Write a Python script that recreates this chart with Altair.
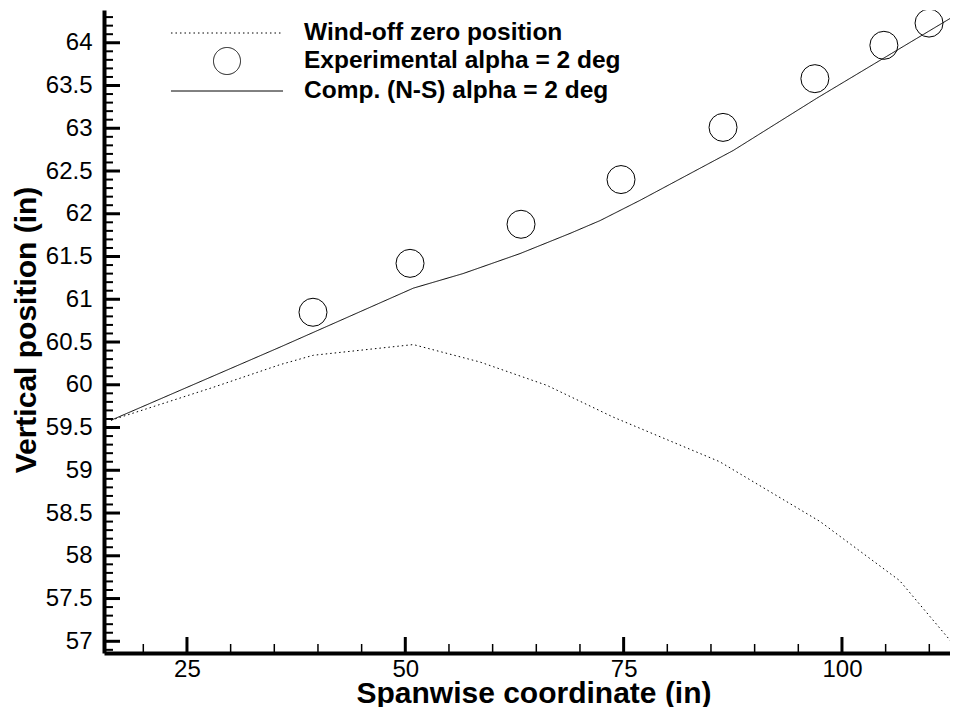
import altair as alt
import pandas as pd

# ---------------- data ----------------
series_names = ["Wind-off zero position", "Experimental alpha = 2 deg", "Comp. (N-S) alpha = 2 deg"]

wind_x = [16.3, 28.0, 35.65, 39.47, 50.92, 58.55, 66.19, 73.78, 86.0, 97.5, 106.6, 113.3]
wind_y = [59.585, 59.97, 60.235, 60.345, 60.47, 60.266, 59.994, 59.623, 59.1, 58.4, 57.71, 56.9]

comp_x = [16.3, 35.65, 50.92, 56.6, 63.13, 68.86, 72.3, 76.88, 87.55, 97.1, 104.7, 113.3]
comp_y = [59.585, 60.44, 61.13, 61.30, 61.534, 61.77, 61.92, 62.157, 62.74, 63.35, 63.815, 64.34]

exp_x = [39.43, 50.54, 63.25, 74.7, 86.38, 96.9, 104.8, 109.97]
exp_y = [60.848, 61.42, 61.877, 62.40, 63.01, 63.58, 63.97, 64.23]

x_major = [25, 50, 75, 100]
x_minor = [20, 30, 35, 40, 45, 55, 60, 65, 70, 80, 85, 90, 95, 105, 110]
y_major = [57, 57.5, 58, 58.5, 59, 59.5, 60, 60.5, 61, 61.5, 62, 62.5, 63, 63.5, 64]
y_minor = [round(56.9 + 0.1 * i, 1) for i in range(75)]
y_minor = [v for v in y_minor if abs(v * 2 - round(v * 2)) > 1e-6]

# ---------------- layout / style ----------------
W, H = 846, 643
FONT = "Liberation Sans"
xs = alt.Scale(domain=[15.5, 112.37], nice=False, zero=False)
ys = alt.Scale(domain=[56.863, 64.383], nice=False, zero=False)

x_axis = alt.Axis(title="Spanwise coordinate (in)", values=x_major, format="d",
                  ticks=False, tickSize=0, grid=False, labelPadding=4,
                  titleX=429.5, titleY=49, titleAlign="center", titleBaseline="alphabetic")
y_axis = alt.Axis(title="Vertical position (in)", values=y_major, format=".1~f",
                  ticks=False, tickSize=0, grid=False, labelPadding=12,
                  titleAngle=270, titleX=-69, titleY=H / 2 - 2, titleAlign="center",
                  titleBaseline="alphabetic")

X = lambda f: alt.X(f, type="quantitative", scale=xs, axis=x_axis)
Y = lambda f: alt.Y(f, type="quantitative", scale=ys, axis=y_axis)

legend = alt.Legend(title=None, orient="none", legendX=109, legendY=9,
                    symbolSize=729, symbolStrokeColor="black", symbolFillColor="transparent",
                    symbolStrokeWidth=1, labelFont=FONT, labelFontSize=24.5, labelFontWeight="bold",
                    labelColor="black", labelOffset=63, rowPadding=0, padding=0,
                    labelLimit=500)

lines_df = pd.DataFrame({
    "x": wind_x + comp_x,
    "y": wind_y + comp_y,
    "series": [series_names[0]] * len(wind_x) + [series_names[2]] * len(comp_x),
    "i": list(range(len(wind_x))) + list(range(len(comp_x))),
})
exp_df = pd.DataFrame({"x": exp_x, "y": exp_y, "series": [series_names[1]] * len(exp_x)})

lines = alt.Chart(lines_df).mark_line(color="black", strokeWidth=1, clip=True).encode(
    x=X("x"), y=Y("y"),
    strokeDash=alt.StrokeDash("series:N",
                              scale=alt.Scale(domain=series_names, range=[[1.5, 3], [1, 0], [1, 0]]),
                              legend=legend),
    detail="series:N",
    order="i:Q",
)

points = alt.Chart(exp_df).mark_point(filled=False, color="black", strokeWidth=1, size=784,
                                      opacity=1, clip=True).encode(
    x=X("x"), y=Y("y"),
    shape=alt.Shape("series:N",
                    scale=alt.Scale(domain=series_names,
                                    range=["M-4.15,0H4.15", "circle", "M-4.15,0H4.15"]),
                    legend=legend),
)

ymaj = alt.Chart(pd.DataFrame({"y": y_major})).mark_rule(color="black", strokeWidth=3).encode(
    y=Y("y"), x=alt.value(0), x2=alt.value(16))
ymin = alt.Chart(pd.DataFrame({"y": y_minor})).mark_rule(color="black", strokeWidth=2).encode(
    y=Y("y"), x=alt.value(0), x2=alt.value(9))
xmaj = alt.Chart(pd.DataFrame({"x": x_major})).mark_rule(color="black", strokeWidth=3).encode(
    x=X("x"), y=alt.value(H), y2=alt.value(H - 16))
xmin = alt.Chart(pd.DataFrame({"x": x_minor})).mark_rule(color="black", strokeWidth=1.5).encode(
    x=X("x"), y=alt.value(H), y2=alt.value(H - 9))

chart = alt.layer(ymaj, ymin, xmaj, xmin, lines, points).properties(
    width=W, height=H,
    autosize=alt.AutoSizeParams(type="none"),
    padding={"left": 96, "top": 2, "right": 0, "bottom": 54},
    background="white",
).configure_view(stroke=None).configure_axis(
    domainColor="black", domainWidth=4,
    labelFont=FONT, labelFontSize=24, labelColor="black",
    titleFont=FONT, titleFontSize=30, titleFontWeight="bold", titleColor="black",
)

chart.save("out.html", embed_options={"renderer": "svg", "actions": False})
